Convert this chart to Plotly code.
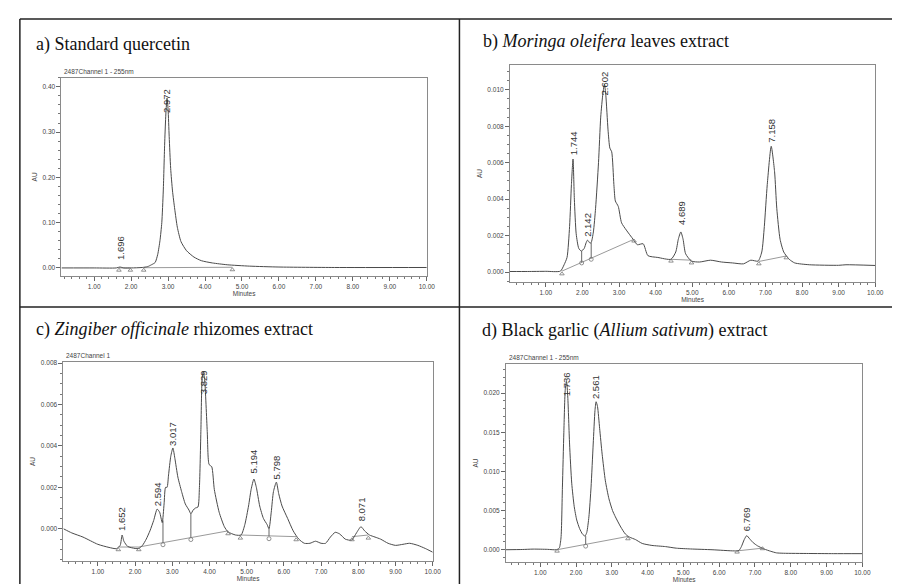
import plotly.graph_objects as go

# ---------------- DATA ----------------
# a) Standard quercetin
A_T = [0.115, 1.0, 1.6, 1.696, 1.8, 2.0, 2.3, 2.45, 2.55, 2.65, 2.72, 2.78, 2.83, 2.87, 2.91, 2.94,
       2.972, 3.0, 3.03, 3.07, 3.12, 3.18, 3.25, 3.35, 3.5, 3.7, 3.9, 4.2, 4.6, 5.2, 6.0, 7.5, 10.0]
A_Y = [0.000, 0.000, 0.000, 0.002, 0.000, 0.000, 0.001, 0.003, 0.007, 0.012, 0.030, 0.060, 0.100, 0.170, 0.280, 0.340,
       0.375, 0.350, 0.290, 0.220, 0.170, 0.130, 0.090, 0.058, 0.038, 0.024, 0.016, 0.011, 0.007, 0.004, 0.002, 0.001, 0.001]
A_PEAKS = ["1.696", "2.972"]
A_PEAK_T = [1.696, 2.972]
A_LABEL_Y = [0.013, 0.338]
A_BASE_X = [1.67, 1.98, None, 2.34, 4.74]
A_BASE_Y = [0.000, 0.000, None, 0.0005, 0.0015]
A_TRI_X = [1.67, 1.98, 2.34, 4.74]
A_TRI_Y = [-0.005, -0.005, -0.005, -0.004]

# b) Moringa oleifera leaves extract
B_T = [0.02, 0.5, 1.0, 1.4, 1.5, 1.58, 1.65, 1.7, 1.744, 1.78, 1.83, 1.9, 1.97, 2.05, 2.1, 2.142, 2.2, 2.236,
       2.3, 2.36, 2.44, 2.5, 2.56, 2.602, 2.64, 2.7, 2.75, 2.8, 2.86, 2.9, 2.98, 3.07, 3.2, 3.385, 3.5, 3.66,
       3.79, 4.06, 4.42, 4.55, 4.62, 4.689, 4.75, 4.82, 4.98, 5.2, 5.5, 5.8, 6.1, 6.4, 6.6, 6.8, 6.9, 6.97,
       7.05, 7.158, 7.25, 7.31, 7.4, 7.5, 7.65, 7.8, 8.2, 9.0, 9.2, 10.0]
B_Y = [0.00003, 0.00003, 0.00004, 0.00005, 0.0004, 0.0008, 0.0025, 0.0048, 0.0062, 0.0040, 0.0021, 0.0013,
       0.00115, 0.0013, 0.0016, 0.00175, 0.0016, 0.0016, 0.0022, 0.0035, 0.0060, 0.0085, 0.0098, 0.0103,
       0.0097, 0.0078, 0.0068, 0.0066, 0.0048, 0.0039, 0.0036, 0.0027, 0.0023, 0.0018, 0.0015, 0.00155,
       0.0009, 0.0008, 0.0007, 0.0011, 0.0018, 0.0022, 0.0018, 0.0010, 0.0006, 0.00055, 0.00065, 0.00055,
       0.0005, 0.00045, 0.00065, 0.0006, 0.0011, 0.0025, 0.0048, 0.0069, 0.0055, 0.0035, 0.0018, 0.0011,
       0.0007, 0.0005, 0.0004, 0.00037, 0.0004, 0.00036]
B_PEAKS = ["1.744", "2.142", "2.602", "4.689", "7.158"]
B_PEAK_T = [1.744, 2.142, 2.602, 4.689, 7.158]
B_LABEL_Y = [0.0063, 0.0018, 0.0096, 0.00246, 0.0070]
B_BASE_X = [1.44, 3.41, None, 4.42, 4.98, None, 6.82, 7.57]
B_BASE_Y = [0.00005, 0.0018, None, 0.0007, 0.00065, None, 0.00058, 0.00088]
B_DROP_X = [1.98, 1.98, None, 2.24, 2.24]
B_DROP_Y = [0.00115, 0.00053, None, 0.0016, 0.00075]
B_TRI_X = [1.44, 3.41, 4.42, 4.98, 6.82, 7.57]
B_TRI_Y = [-0.0001, 0.0017, 0.0006, 0.0005, 0.00045, 0.00078]
B_CIR_X = [1.98, 2.24]
B_CIR_Y = [0.0005, 0.0007]

# c) Zingiber officinale rhizomes extract
C_T = [0.075, 0.3, 0.6, 1.0, 1.3, 1.5, 1.6, 1.652, 1.7, 1.8, 2.0, 2.1, 2.2, 2.3, 2.4, 2.5, 2.594, 2.66, 2.73,
       2.78, 2.82, 2.86, 2.9, 2.96, 3.017, 3.07, 3.15, 3.25, 3.35, 3.45, 3.5, 3.56, 3.62, 3.69, 3.73, 3.77,
       3.80, 3.829, 3.87, 3.94, 3.99, 4.06, 4.13, 4.26, 4.4, 4.5, 4.7, 4.85, 4.95, 5.05, 5.12, 5.194, 5.26,
       5.35, 5.45, 5.55, 5.6, 5.66, 5.72, 5.798, 5.86, 5.95, 6.1, 6.25, 6.4, 6.55, 6.7, 6.85, 7.0, 7.12,
       7.25, 7.38, 7.5, 7.65, 7.82, 7.95, 8.071, 8.17, 8.3, 8.45, 8.6, 8.8, 9.0, 9.2, 9.38, 9.6, 9.8, 10.0]
C_Y = [0.0, -0.0002, -0.0004, -0.00075, -0.0009, -0.00096, -0.0008, -0.0003, -0.0006, -0.00085, -0.00095,
       -0.00095, -0.0008, -0.0005, -0.0001, 0.0004, 0.00095, 0.0008, 0.0003, 0.0012, 0.0020, 0.0020, 0.0026,
       0.0035, 0.0039, 0.0034, 0.0025, 0.0018, 0.0012, 0.0009, 0.00072, 0.0009, 0.0010, 0.00105, 0.0020,
       0.0048, 0.0072, 0.0076, 0.0072, 0.0047, 0.0031, 0.0030, 0.0019, 0.0008, 0.0001, -0.00015, -0.0003,
       -0.0003, 0.0002, 0.0011, 0.0019, 0.0024, 0.0020, 0.0011, 0.0005, 0.0002, 0.0, 0.0008, 0.0018,
       0.00225, 0.0017, 0.0011, 0.0005, -0.0001, -0.0005, -0.0007, -0.0007, -0.0006, -0.0007, -0.0007,
       -0.0004, -0.00017, -0.00025, -0.0005, -0.00055, -0.0002, 0.0001, -0.0001, -0.0003, -0.0004, -0.0005,
       -0.0007, -0.0008, -0.00075, -0.0007, -0.0008, -0.00095, -0.00113]
C_PEAKS = ["1.652", "2.594", "3.017", "3.829", "5.194", "5.798", "8.071"]
C_PEAK_T = [1.652, 2.594, 3.017, 3.829, 5.194, 5.798, 8.071]
C_LABEL_Y = [-0.0002, 0.0010, 0.0039, 0.0064, 0.00257, 0.0023, 0.00026]
C_BASE_X = [1.55, 2.1, 4.5, None, 4.83, 6.33, None, 7.83, 8.27]
C_BASE_Y = [-0.00088, -0.00088, -0.0001, None, -0.0003, -0.00038, None, -0.00038, -0.0003]
C_DROP_X = [2.75, 2.75, None, 3.5, 3.5, None, 5.6, 5.6]
C_DROP_Y = [0.0004, -0.00068, None, 0.00072, -0.00043, None, 0.0, -0.00035]
C_TRI_X = [1.55, 2.1, 4.5, 4.83, 6.33, 7.83, 8.27]
C_TRI_Y = [-0.00101, -0.00101, -0.00024, -0.00045, -0.00053, -0.00053, -0.00045]
C_CIR_X = [2.75, 3.5, 5.6]
C_CIR_Y = [-0.00077, -0.00052, -0.00048]

# d) Black garlic (Allium sativum) extract
D_T = [0.043, 0.5, 0.8, 1.2, 1.45, 1.53, 1.58, 1.62, 1.66, 1.70, 1.736, 1.77, 1.82, 1.88, 1.95, 2.02, 2.1,
       2.18, 2.25, 2.3, 2.36, 2.42, 2.48, 2.53, 2.561, 2.6, 2.66, 2.73, 2.82, 2.92, 3.02, 3.1, 3.25, 3.38,
       3.5, 3.66, 3.85, 4.12, 4.5, 4.8, 5.2, 5.8, 6.42, 6.55, 6.62, 6.7, 6.769, 6.85, 6.95, 7.07, 7.25,
       7.44, 7.6, 7.8, 8.5, 9.2, 10.0]
D_Y = [0.0, 0.00003, 0.00008, 0.00005, 0.0, 0.0002, 0.0015, 0.0080, 0.0150, 0.0205, 0.0215, 0.0195, 0.0135,
       0.0085, 0.0055, 0.0038, 0.0027, 0.0020, 0.00175, 0.0022, 0.0042, 0.0080, 0.0135, 0.0178, 0.0189,
       0.0183, 0.0155, 0.0122, 0.0088, 0.0065, 0.0050, 0.0042, 0.0029, 0.0020, 0.0016, 0.0013, 0.0008,
       0.00055, 0.0004, 0.0002, 0.0001, 0.0, -0.00015, -0.0001, 0.0004, 0.0013, 0.0018, 0.0014, 0.0009,
       0.0005, 0.0001, -0.0002, -0.0004, -0.00045, -0.00048, -0.0005, -0.0005]
D_PEAKS = ["1.736", "2.561", "6.769"]
D_PEAK_T = [1.736, 2.561, 6.769]
D_LABEL_Y = [0.0193, 0.0190, 0.00207]
D_BASE_X = [1.47, 3.45, None, 6.5, 7.21]
D_BASE_Y = [0.0, 0.0017, None, -0.00015, 0.0002]
D_DROP_X = [2.27, 2.27]
D_DROP_Y = [0.00175, 0.00069]
D_TRI_X = [1.47, 3.45, 6.5, 7.21]
D_TRI_Y = [-0.00018, 0.0014, -0.0003, 0.00013]
D_CIR_X = [2.27]
D_CIR_Y = [0.00046]

X_TICKS = [1, 2, 3, 4, 5, 6, 7, 8, 9, 10]
X_TICK_TEXT = ["1.00", "2.00", "3.00", "4.00", "5.00", "6.00", "7.00", "8.00", "9.00", "10.00"]

TITLES = ["a) Standard quercetin",
          "b) <i>Moringa oleifera</i> leaves extract",
          "c) <i>Zingiber officinale</i> rhizomes extract",
          "d) Black garlic (<i>Allium sativum</i>) extract"]
CHANNELS = ["2487Channel 1 - 255nm", "", "2487Channel 1", "2487Channel 1 - 255nm"]

# ---------------- LAYOUT ----------------
W, H = 900, 584

def dx(l, r):
    return [l / W, r / W]

def dy(t, b):
    return [1 - b / H, 1 - t / H]

panels = [
    dict(t=A_T, y=A_Y, peaks=A_PEAKS, pt=A_PEAK_T, ly=A_LABEL_Y, bx=A_BASE_X, by=A_BASE_Y,
         drx=None, dry=None, tx=A_TRI_X, ty=A_TRI_Y, cx=None, cy=None,
         box=(54, 423, 68, 267), xr=[0.115, 10], yr=[-0.018, 0.42], ydt=0.1, yfmt=".2f", ymin=0.02),
    dict(t=B_T, y=B_Y, peaks=B_PEAKS, pt=B_PEAK_T, ly=B_LABEL_Y, bx=B_BASE_X, by=B_BASE_Y,
         drx=B_DROP_X, dry=B_DROP_Y, tx=B_TRI_X, ty=B_TRI_Y, cx=B_CIR_X, cy=B_CIR_Y,
         box=(507, 876, 55, 273), xr=[0.02, 10], yr=[-0.00055, 0.01137], ydt=0.002, yfmt=".3f", ymin=0.0005),
    dict(t=C_T, y=C_Y, peaks=C_PEAKS, pt=C_PEAK_T, ly=C_LABEL_Y, bx=C_BASE_X, by=C_BASE_Y,
         drx=C_DROP_X, dry=C_DROP_Y, tx=C_TRI_X, ty=C_TRI_Y, cx=C_CIR_X, cy=C_CIR_Y,
         box=(56, 429, 353, 553), xr=[0.075, 10], yr=[-0.00156, 0.00806], ydt=0.002, yfmt=".3f", ymin=0.0005),
    dict(t=D_T, y=D_Y, peaks=D_PEAKS, pt=D_PEAK_T, ly=D_LABEL_Y, bx=D_BASE_X, by=D_BASE_Y,
         drx=D_DROP_X, dry=D_DROP_Y, tx=D_TRI_X, ty=D_TRI_Y, cx=D_CIR_X, cy=D_CIR_Y,
         box=(503, 863, 355, 554), xr=[0.043, 10], yr=[-0.00158, 0.02375], ydt=0.005, yfmt=".3f", ymin=0.001),
]

title_pos = [(26, 35), (478, 32), (26, 321), (477, 322)]

fig = go.Figure()
annotations = []
layout_axes = {}
SANS = "Liberation Sans"
SERIF = "Liberation Serif"
TICKFONT = dict(family=SANS, size=6.5, color="#444")
CURVE = "#4a4a4a"

for i, p in enumerate(panels):
    n = i + 1
    xa = "x" if n == 1 else f"x{n}"
    ya = "y" if n == 1 else f"y{n}"
    l, r, t, b = p["box"]

    fig.add_trace(go.Scatter(x=p["bx"], y=p["by"], mode="lines", xaxis=xa, yaxis=ya,
                             line=dict(color="#9a9a9a", width=1), hoverinfo="skip", showlegend=False))
    if p["drx"]:
        fig.add_trace(go.Scatter(x=p["drx"], y=p["dry"], mode="lines", xaxis=xa, yaxis=ya,
                                 line=dict(color="#666", width=1), hoverinfo="skip", showlegend=False))
    fig.add_trace(go.Scatter(x=p["t"], y=p["y"], mode="lines", xaxis=xa, yaxis=ya,
                             line=dict(color=CURVE, width=1, shape="spline", smoothing=0.6),
                             showlegend=False))
    fig.add_trace(go.Scatter(x=p["tx"], y=p["ty"], mode="markers", xaxis=xa, yaxis=ya,
                             marker=dict(symbol="triangle-up-open", size=4, color="#777",
                                         line=dict(width=0.8)),
                             hoverinfo="skip", showlegend=False))
    if p["cx"]:
        fig.add_trace(go.Scatter(x=p["cx"], y=p["cy"], mode="markers", xaxis=xa, yaxis=ya,
                                 marker=dict(symbol="circle-open", size=4, color="#777",
                                             line=dict(width=0.8)),
                                 hoverinfo="skip", showlegend=False))

    xkey = "xaxis" if n == 1 else f"xaxis{n}"
    ykey = "yaxis" if n == 1 else f"yaxis{n}"
    layout_axes[xkey] = dict(
        domain=dx(l, r), anchor=ya, range=p["xr"], tickmode="array",
        tickvals=X_TICKS, ticktext=X_TICK_TEXT, ticks="outside", ticklen=4, tickwidth=0.8,
        tickcolor="#666", tickfont=TICKFONT, showline=True, linecolor="#8a8a8a", linewidth=1,
        mirror=True, showgrid=False, zeroline=False,
        minor=dict(tickmode="linear", tick0=0, dtick=0.2, ticks="outside", ticklen=2,
                   tickcolor="#777", showgrid=False),
        title=dict(text="Minutes", font=dict(family=SANS, size=6.5, color="#444"), standoff=1),
    )
    layout_axes[ykey] = dict(
        domain=dy(t, b), anchor=xa, range=p["yr"], tickmode="linear", tick0=0, dtick=p["ydt"],
        tickformat=p["yfmt"], ticks="outside", ticklen=4, tickwidth=0.8, tickcolor="#666",
        tickfont=TICKFONT, showline=True, linecolor="#8a8a8a", linewidth=1, mirror=True,
        showgrid=False, zeroline=False,
        minor=dict(tickmode="linear", tick0=0, dtick=p["ymin"], ticks="outside", ticklen=2,
                   tickcolor="#777", showgrid=False),
        title=dict(text="AU", font=dict(family=SANS, size=6.5, color="#444"), standoff=4),
    )

    for lab, pt, ly in zip(p["peaks"], p["pt"], p["ly"]):
        annotations.append(dict(x=pt, y=ly, xref=xa, yref=ya, text=lab, showarrow=False,
                                textangle=-90, xanchor="center", yanchor="bottom",
                                font=dict(family=SANS, size=9.5, color="#333")))

    tx_, ty_ = title_pos[i]
    annotations.append(dict(x=tx_ / W, y=1 - ty_ / H, xref="paper", yref="paper", text=TITLES[i],
                            showarrow=False, xanchor="left", yanchor="middle",
                            font=dict(family=SERIF, size=18, color="#111")))
    if CHANNELS[i]:
        annotations.append(dict(x=(l + 1) / W, y=1 - (t - 1) / H, xref="paper", yref="paper",
                                text=CHANNELS[i], showarrow=False, xanchor="left", yanchor="bottom",
                                font=dict(family=SANS, size=6.5, color="#444")))

# frame lines (table borders)
shapes = [
    dict(type="line", xref="paper", yref="paper", x0=12 / W, x1=1, y0=1 - 9 / H, y1=1 - 9 / H,
         line=dict(color="#222", width=1.5)),
    dict(type="line", xref="paper", yref="paper", x0=12 / W, x1=12 / W, y0=0, y1=1 - 9 / H,
         line=dict(color="#222", width=1.5)),
    dict(type="line", xref="paper", yref="paper", x0=456 / W, x1=456 / W, y0=0, y1=1 - 9 / H,
         line=dict(color="#222", width=1.5)),
    dict(type="line", xref="paper", yref="paper", x0=12 / W, x1=1, y0=1 - 298 / H, y1=1 - 298 / H,
         line=dict(color="#222", width=1.5)),
]

fig.update_layout(width=W, height=H, margin=dict(l=0, r=0, t=0, b=0), paper_bgcolor="white",
                  plot_bgcolor="white", showlegend=False, annotations=annotations, shapes=shapes,
                  **layout_axes)

fig.write_html("out.html")
